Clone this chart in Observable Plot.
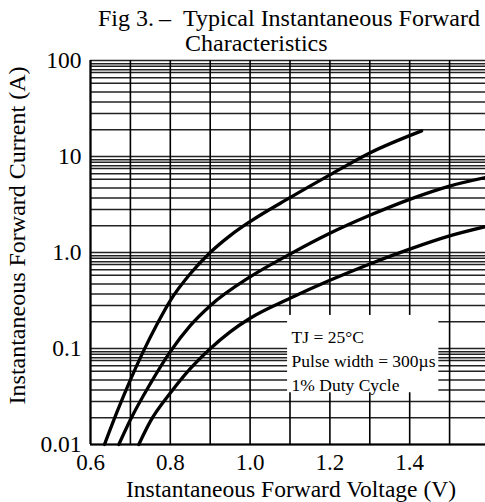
<!DOCTYPE html>
<html><head><meta charset="utf-8">
<script src="https://cdn.jsdelivr.net/npm/d3@7"></script>
<script src="https://cdn.jsdelivr.net/npm/@observablehq/plot@0.6"></script>
<style>
body{margin:0;background:#fff;}
#wrap{position:relative;width:485px;height:502px;overflow:hidden;font-family:"Liberation Serif","Times New Roman",serif;}
#wrap svg{position:absolute;left:0;top:0;font-family:"Liberation Serif","Times New Roman",serif;}
.t{position:absolute;white-space:pre;font-size:24px;line-height:24px;color:#000;z-index:2;}
</style></head><body>
<div id="wrap">
<div class="t" style="left:98px;top:6px">Fig 3.</div>
<div class="t" style="left:159px;top:6px">–</div>
<div class="t" style="left:183px;top:6px">Typical Instantaneous Forward</div>
<div class="t" style="left:185px;top:31px">Characteristics</div>
</div>
<script>
// ---- data ----
const xTicks = [0.6, 0.8, 1.0, 1.2, 1.4];
const xTickLabels = ["0.6", "0.8", "1.0", "1.2", "1.4"];
const xGrid = [0.6, 0.7, 0.8, 0.9, 1.0, 1.1, 1.2, 1.3, 1.4, 1.5];
const yTicks = [0.01, 0.1, 1, 10, 100];
const yTickLabels = ["0.01", "0.1", "1.0", "10", "100"];
const yDecades = [0.01, 0.1, 1, 10];
const yGridMultipliers = [1.9, 2.8, 3.7, 4.7, 5.8, 6.6, 7.5, 8.0, 8.7, 9.25];
const xLabel = "Instantaneous Forward Voltage (V)";
const yLabel = "Instantaneous Forward Current (A)";

const seriesNames = ["A", "B", "C"];
const voltA = [0.635, 0.667, 0.70, 0.733, 0.767, 0.80, 0.85, 0.90, 0.95, 1.0, 1.1, 1.2, 1.3, 1.43];
const currA = [0.01, 0.0221, 0.0471, 0.0944, 0.180, 0.316, 0.60, 1.0, 1.50, 2.10, 3.73, 6.44, 10.9, 18.5];
const voltB = [0.671, 0.70, 0.75, 0.80, 0.85, 0.90, 1.0, 1.1, 1.2, 1.3, 1.4, 1.5, 1.59];
const currB = [0.01, 0.0181, 0.043, 0.0927, 0.173, 0.279, 0.557, 0.962, 1.585, 2.44, 3.58, 4.92, 6.04];
const voltC = [0.721, 0.75, 0.80, 0.85, 0.90, 0.95, 1.0, 1.1, 1.2, 1.3, 1.4, 1.5, 1.59];
const currC = [0.01, 0.0174, 0.0343, 0.0616, 0.0995, 0.149, 0.2065, 0.333, 0.513, 0.76, 1.085, 1.49, 1.86];

const noteLines = "TJ = 25°C\nPulse width = 300µs\n1% Duty Cycle";
const noteBoxX = [1.094, 1.473];
const noteBoxY = [0.0346, 0.221];
const noteAt = [1.104, 0.172];

// ---- build tables ----
const curves = [];
[[voltA, currA], [voltB, currB], [voltC, currC]].forEach(([v, c], k) => {
  v.forEach((x, i) => curves.push({series: seriesNames[k], v: x, i: c[i]}));
});
const yGrid = [100];
yDecades.forEach(d => { yGrid.push(d); yGridMultipliers.forEach(m => yGrid.push(d * m)); });

const serif = "'Liberation Serif','Times New Roman',serif";
const chart = Plot.plot({
  width: 485,
  height: 502,
  marginLeft: 90,
  marginRight: 0,
  marginTop: 60,
  marginBottom: 58,
  style: {fontFamily: serif, fontSize: "24px", background: "transparent", color: "#000"},
  x: {domain: [0.6, 1.59], label: null},
  y: {type: "log", domain: [0.01, 100], label: null},
  marks: [
    Plot.ruleY(yGrid, {stroke: "#222", strokeWidth: 1.5}),
    Plot.ruleX(xGrid, {stroke: "#000", strokeWidth: 1.6}),
    Plot.ruleX([xGrid[0]], {stroke: "#000", strokeWidth: 2}),
    Plot.ruleY([yTicks[0]], {stroke: "#000", strokeWidth: 2}),
    Plot.rect([{}], {x1: () => noteBoxX[0], x2: () => noteBoxX[1], y1: () => noteBoxY[0], y2: () => noteBoxY[1], fill: "white"}),
    Plot.line(curves, {x: "v", y: "i", z: "series", stroke: "#000", strokeWidth: 3.3, curve: "monotone-x"}),
    Plot.text([noteLines], {x: () => noteAt[0], y: () => noteAt[1], text: d => d, textAnchor: "start", lineAnchor: "top", fontSize: 17.5, lineHeight: 1.37, fill: "#000"}),
    Plot.axisX({ticks: xTicks, tickFormat: d => xTickLabels[xTicks.indexOf(d)], tickSize: 0, tickPadding: 9, label: null, fontFamily: serif, fontSize: 23}),
    Plot.axisY({ticks: yTicks, tickFormat: d => yTickLabels[yTicks.indexOf(d)], tickSize: 0, tickPadding: 9, label: null, fontFamily: serif, fontSize: 23.5}),
    Plot.text([xLabel], {frameAnchor: "bottom", text: d => d, textAnchor: "middle", lineAnchor: "middle", dx: 3, dy: 45, fontSize: 23.5, fontFamily: serif, fill: "#000"}),
    Plot.text([yLabel], {frameAnchor: "left", text: d => d, rotate: -90, textAnchor: "middle", lineAnchor: "middle", dx: -73, dy: -17, fontSize: 24, fontFamily: serif, fill: "#000"})
  ]
});
document.getElementById("wrap").prepend(chart);
</script>
</body></html>
